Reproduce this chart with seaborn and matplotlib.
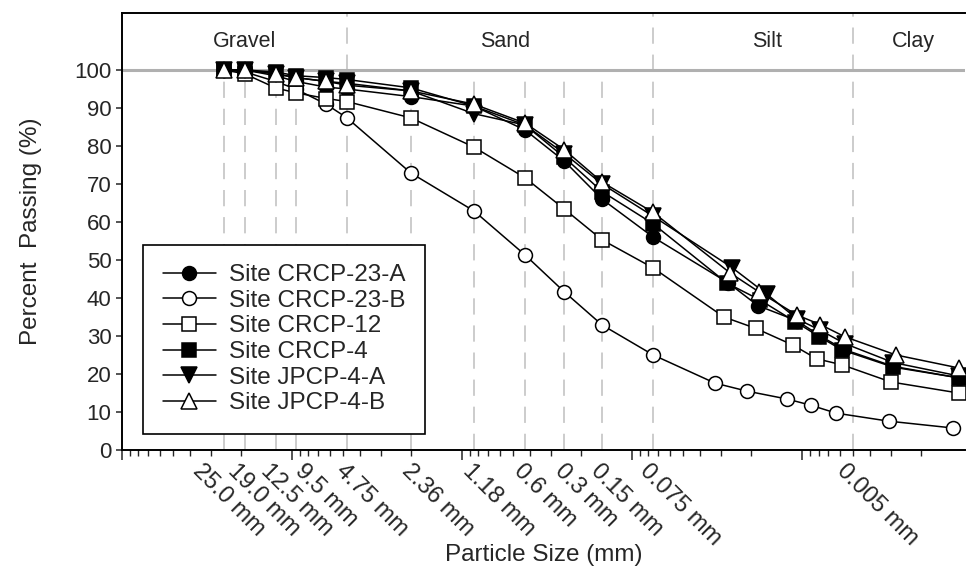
import matplotlib
matplotlib.use("Agg")
import matplotlib.pyplot as plt
import matplotlib.transforms as mtransforms
from matplotlib.ticker import NullFormatter
import seaborn as sns

# Sieve sizes (mm)
sieve_mm = [25.0, 19.0, 12.5, 9.5, 6.3, 4.75, 2.0, 0.85, 0.425, 0.25, 0.15, 0.075]

# Hydrometer sizes (mm) per site
hydro_crcp23a = [0.0272, 0.0182, 0.0107, 0.0078, 0.0057, 0.0029, 0.0012]
hydro_crcp23b = [0.0325, 0.0211, 0.0122, 0.0089, 0.0063, 0.0031, 0.0013]
hydro_crcp12 = [0.0288, 0.0187, 0.0113, 0.0082, 0.0058, 0.0030, 0.0012]
hydro_crcp4 = [0.0276, 0.0177, 0.0110, 0.0079, 0.0058, 0.0029, 0.0012]
hydro_jpcp4a = [0.0258, 0.0161, 0.0107, 0.0078, 0.0056, 0.0029, 0.0012]
hydro_jpcp4b = [0.0265, 0.0179, 0.0107, 0.0078, 0.0056, 0.0028, 0.0012]

# Percent passing
pass_crcp23a = [100, 100, 98.5, 97, 95.5, 95, 93, 90.5, 84.2, 76, 66, 56,
                44, 38, 34, 30, 26.5, 22, 19]
pass_crcp23b = [100, 99.5, 97, 95, 91, 87.4, 72.9, 62.9, 51.3, 41.6, 32.9, 25,
                17.6, 15.5, 13.4, 11.8, 9.7, 7.6, 5.8]
pass_crcp12 = [100, 99, 95.3, 94, 92.5, 91.7, 87.4, 79.7, 71.6, 63.4, 55.3, 47.9,
               35, 32, 27.6, 24, 22.4, 17.9, 15]
pass_crcp4 = [100, 100, 99.5, 98.5, 98, 97.5, 95.3, 90.5, 85.5, 77, 68, 59.5,
              43.9, 39.5, 33.8, 29.8, 26.3, 21.8, 19]
pass_jpcp4a = [100, 100, 99, 98, 97, 96.5, 94.5, 88.5, 85.5, 78, 70, 61.5,
               48, 41, 34.5, 31.5, 28, 23, 19.5]
pass_jpcp4b = [100, 100, 99, 98, 97, 96, 94.5, 91, 86, 79, 70.5, 62.5,
               46.6, 41.6, 35.5, 33, 29.8, 25, 21.6]

sites = ["Site CRCP-23-A", "Site CRCP-23-B", "Site CRCP-12",
         "Site CRCP-4", "Site JPCP-4-A", "Site JPCP-4-B"]
hydros = [hydro_crcp23a, hydro_crcp23b, hydro_crcp12, hydro_crcp4, hydro_jpcp4a, hydro_jpcp4b]
passing = [pass_crcp23a, pass_crcp23b, pass_crcp12, pass_crcp4, pass_jpcp4a, pass_jpcp4b]

# Labels under the x axis
label_mm = [25.0, 19.0, 12.5, 9.5, 4.75, 2.0, 0.85, 0.425, 0.25, 0.15, 0.075, 0.005]
label_txt = ["25.0 mm", "19.0 mm", "12.5 mm", "9.5 mm", "4.75 mm", "2.36 mm",
             "1.18 mm", "0.6 mm", "0.3 mm", "0.15 mm", "0.075 mm", "0.005 mm"]
boundary_mm = [4.75, 0.075, 0.005]

soil_names = ["Gravel", "Sand", "Silt", "Clay"]
soil_mm = [18.9, 0.56, 0.0161, 0.00222]

# style
markers = ["o", "o", "s", "s", "v", "^"]
faces = ["black", "white", "white", "black", "black", "white"]
msizes = [10, 10, 9.5, 9.5, 11, 11]
label_shift = [-20, -6, -4, 10, 0, 2, 0, 0, 2, 0, -2, -5]

sns.set_style("ticks")
plt.rcParams['font.family'] = ['Liberation Sans', 'DejaVu Sans']

fig = plt.figure(figsize=(9.68, 5.73), dpi=100)
ax = fig.add_axes([122 / 968, 123 / 573, 843 / 968, 437 / 573])
ax.set_xscale("log")

# grid lines
for v in label_mm:
    if v in boundary_mm:
        ax.axvline(v, color="#c8c8c8", lw=1.3, ls=(0, (9, 6)), zorder=0)
    else:
        ax.vlines(v, 0, 100, color="#c8c8c8", lw=1.3, ls=(0, (9, 6)), zorder=0)
ax.axhline(100, color="#b0b0b0", lw=2.2, zorder=0.5)

for name, hx, yv, mk, fc, ms in zip(sites, hydros, passing, markers, faces, msizes):
    sns.lineplot(x=sieve_mm + hx, y=yv, ax=ax, color="black", lw=1.1,
                 marker=mk, markersize=ms, markerfacecolor=fc,
                 markeredgecolor="black", markeredgewidth=1.1,
                 label=name, sort=False, estimator=None)

ax.set_xlim(100, 0.0011)
ax.set_ylim(0, 115)
ax.set_yticks(range(0, 101, 10))
ax.xaxis.set_major_formatter(NullFormatter())
ax.xaxis.set_minor_formatter(NullFormatter())
ax.tick_params(axis="y", labelsize=16, length=4, width=1.1, direction="out")
ax.tick_params(axis="x", which="major", length=7, width=1.1, direction="out")
ax.tick_params(axis="x", which="minor", length=4, width=1.0, direction="out")
for s in ["left", "bottom", "top"]:
    ax.spines[s].set_linewidth(1.4)
    ax.spines[s].set_color("black")
ax.spines["right"].set_visible(False)

# rotated size labels
for v, t, dx in zip(label_mm, label_txt, label_shift):
    tr = ax.get_xaxis_transform() + mtransforms.ScaledTranslation(dx / 100, -10 / 100, fig.dpi_scale_trans)
    ax.text(v, 0, t, transform=tr, rotation=-45, rotation_mode="anchor",
            ha="left", va="top", fontsize=17)

for n, v in zip(soil_names, soil_mm):
    ax.text(v, 107.5, n, ha="center", va="center", fontsize=15.5)

ax.set_xlabel("Particle Size (mm)", fontsize=17.5)
ax.set_ylabel("Percent  Passing (%)", fontsize=17.5)
ax.xaxis.set_label_coords(0.5, -0.215)
ax.yaxis.set_label_coords(-0.095, 0.5)

ax.legend(loc="lower left", bbox_to_anchor=(0.025, 0.037), borderaxespad=0,
          fontsize=17.5, frameon=True, fancybox=False, edgecolor="black",
          framealpha=1, labelspacing=0.15, handlelength=2.2,
          handletextpad=0.55, borderpad=0.8)
ax.get_legend().get_frame().set_linewidth(1.2)

plt.savefig("out.png", dpi=100)
